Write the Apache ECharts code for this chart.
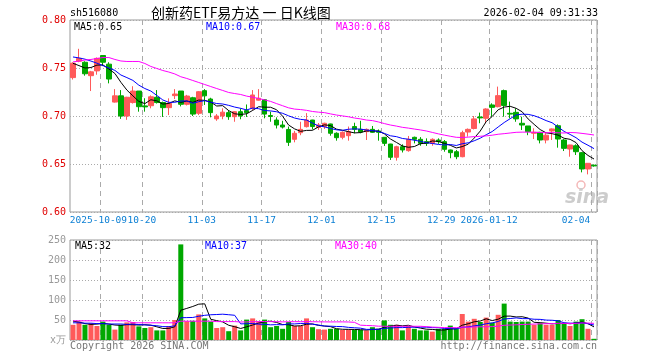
<!DOCTYPE html>
<html><head><meta charset="utf-8">
<script src="https://cdn.jsdelivr.net/npm/echarts@6/dist/echarts.min.js"></script>
<style>html,body{margin:0;padding:0;background:#fff}#c{width:660px;height:360px}</style>
</head><body><div id="c"></div>
<script>
const dates = ['2025-09-24','2025-09-25','2025-09-26','2025-09-29','2025-09-30','2025-10-09','2025-10-10','2025-10-13','2025-10-14','2025-10-15','2025-10-16','2025-10-17','2025-10-20','2025-10-21','2025-10-22','2025-10-23','2025-10-24','2025-10-27','2025-10-28','2025-10-29','2025-10-30','2025-10-31','2025-11-03','2025-11-04','2025-11-05','2025-11-06','2025-11-07','2025-11-10','2025-11-11','2025-11-12','2025-11-13','2025-11-14','2025-11-17','2025-11-18','2025-11-19','2025-11-20','2025-11-21','2025-11-24','2025-11-25','2025-11-26','2025-11-27','2025-11-28','2025-12-01','2025-12-02','2025-12-03','2025-12-04','2025-12-05','2025-12-08','2025-12-09','2025-12-10','2025-12-11','2025-12-12','2025-12-15','2025-12-16','2025-12-17','2025-12-18','2025-12-19','2025-12-22','2025-12-23','2025-12-24','2025-12-25','2025-12-26','2025-12-29','2025-12-30','2025-12-31','2026-01-05','2026-01-06','2026-01-07','2026-01-08','2026-01-09','2026-01-12','2026-01-13','2026-01-14','2026-01-15','2026-01-16','2026-01-19','2026-01-20','2026-01-21','2026-01-22','2026-01-23','2026-01-26','2026-01-27','2026-01-28','2026-01-29','2026-01-30','2026-02-02','2026-02-03','2026-02-04'];

const openP  = [0.740,0.757,0.756,0.742,0.747,0.763,0.754,0.7145,0.721,0.700,0.714,0.726,0.7105,0.7107,0.7195,0.714,0.7087,0.7212,0.726,0.7122,0.719,0.7028,0.7264,0.7177,0.697,0.700,0.7035,0.6993,0.7045,0.7056,0.708,0.7165,0.717,0.7005,0.6958,0.6906,0.686,0.6757,0.6826,0.6889,0.6958,0.688,0.689,0.6917,0.682,0.6778,0.6795,0.689,0.6861,0.6837,0.6861,0.6844,0.6778,0.6708,0.657,0.668,0.6639,0.6778,0.6757,0.6733,0.6715,0.675,0.6733,0.6646,0.6628,0.6576,0.6833,0.687,0.699,0.6976,0.7115,0.7097,0.7264,0.7028,0.7038,0.6924,0.6896,0.682,0.683,0.675,0.6844,0.6899,0.675,0.6656,0.669,0.6618,0.6448,0.6487];
const closeP = [0.755,0.760,0.744,0.746,0.760,0.756,0.7385,0.721,0.700,0.7195,0.726,0.7097,0.7095,0.720,0.714,0.7087,0.7132,0.7229,0.7122,0.7208,0.702,0.7253,0.721,0.7035,0.700,0.704,0.6993,0.7045,0.700,0.7035,0.7219,0.7185,0.702,0.6995,0.6906,0.6885,0.6726,0.682,0.6861,0.6958,0.689,0.6906,0.6924,0.682,0.6774,0.683,0.6837,0.6861,0.6833,0.6861,0.683,0.683,0.6715,0.657,0.668,0.6646,0.6757,0.6757,0.6715,0.6715,0.6757,0.6733,0.6653,0.6618,0.6576,0.6826,0.6861,0.697,0.698,0.7073,0.709,0.7212,0.711,0.702,0.697,0.6906,0.6837,0.683,0.675,0.680,0.6865,0.676,0.6663,0.6698,0.6628,0.6448,0.6507,0.648];
const lowP   = [0.738,0.756,0.742,0.726,0.743,0.752,0.734,0.714,0.697,0.696,0.713,0.7045,0.7045,0.708,0.713,0.699,0.701,0.7177,0.710,0.711,0.700,0.701,0.7115,0.6986,0.695,0.6966,0.696,0.694,0.6966,0.699,0.706,0.716,0.6976,0.694,0.687,0.687,0.6688,0.6726,0.680,0.688,0.686,0.6855,0.6865,0.6795,0.6743,0.6757,0.6743,0.682,0.682,0.675,0.6823,0.6743,0.6688,0.6542,0.6535,0.662,0.6628,0.6715,0.669,0.6688,0.669,0.671,0.6628,0.656,0.655,0.657,0.6785,0.686,0.6924,0.6924,0.6993,0.709,0.6993,0.6976,0.694,0.6854,0.680,0.676,0.6715,0.6715,0.675,0.667,0.6635,0.6576,0.6594,0.6413,0.6392,0.6472];
const highP  = [0.756,0.770,0.757,0.747,0.761,0.763,0.756,0.728,0.727,0.720,0.731,0.726,0.7185,0.7215,0.727,0.715,0.7184,0.728,0.726,0.722,0.720,0.726,0.728,0.719,0.702,0.708,0.706,0.705,0.708,0.712,0.727,0.728,0.7175,0.7045,0.6986,0.695,0.689,0.6845,0.694,0.703,0.696,0.6927,0.693,0.692,0.683,0.684,0.689,0.693,0.695,0.687,0.6896,0.686,0.678,0.671,0.669,0.6705,0.6792,0.6785,0.678,0.6767,0.6767,0.6767,0.675,0.665,0.6646,0.6847,0.687,0.700,0.7035,0.708,0.7132,0.7306,0.7275,0.715,0.708,0.6993,0.6896,0.6872,0.6835,0.683,0.687,0.6913,0.676,0.670,0.6705,0.6625,0.651,0.6495];
const volume = [38,46,38,42,35,46,38,26,38,44,45,34,30,32,24,24,35,50,239,47,48,64,54,46,30,32,22,36,24,51,54,47,51,32,35,28,45,35,35,54,32,27,26,28,28,25,26,25,25,24,32,28,49,38,38,24,35,28,24,24,21,28,28,36,28,65,46,53,45,56,43,63,91,46,45,46,46,38,42,38,38,50,42,35,46,52,28,3];

// moving-average values before enough history exists
const ma5Head  = [0.7549,0.7525,0.7500,0.7505];
const ma10Head = [0.7615,0.7605,0.7592,0.7572,0.7550,0.7525,0.7500,0.7475,0.7427];
const ma30Head = [0.7563,0.7573,0.7583,0.7589,0.7599,0.7609,0.7609,0.7589,0.7573,0.7568,0.7568,0.7568,0.7547,0.7516,0.7495,0.7474,0.7458,0.7438,0.7409,0.7391,0.7370,0.7349,0.7328,0.7307,0.7286,0.7266,0.7245,0.7234,0.7224];
const vMa5Head  = [47,45,41,39];
const vMa10Head = [43,43,42,42,41,41,40,40,40];
const vMa30Head = [48,48,48,48,48,48,48,48,48,48,43,43,43,43,43,43,43,43,47,47,47,47,47,47,46,46,46,46,45];

const tickDates  = ['2025-10-09','2025-10-20','2025-11-03','2025-11-17','2025-12-01','2025-12-15','2025-12-29','2026-01-12','2026-02-04'];
const tickLabels = ['2025-10-09','10-20','11-03','11-17','12-01','12-15','12-29','2026-01-12','02-04'];
const priceTicks = [0.60,0.65,0.70,0.75,0.80];
const volTicks = [0,50,100,150,200,250];

function ma(arr, n, head) {
  return arr.map((v, i) => {
    if (i < n - 1) return head[i];
    let s = 0; for (let k = i - n + 1; k <= i; k++) s += arr[k];
    return +(s / n).toFixed(4);
  });
}
const ma5 = ma(closeP, 5, ma5Head), ma10 = ma(closeP, 10, ma10Head), ma30 = ma(closeP, 30, ma30Head);
const vma5 = ma(volume, 5, vMa5Head), vma10 = ma(volume, 10, vMa10Head), vma30 = ma(volume, 30, vMa30Head);

const UP = '#ff5a5a', DOWN = '#00a800';
const MONO = '"DejaVu Sans Mono", "Liberation Mono", monospace';
const isTick = (idx) => tickDates.indexOf(dates[idx]) >= 0;
const firstTickIdx = dates.indexOf(tickDates[0]);
const isLaterTick = (idx) => isTick(idx) && idx !== firstTickIdx;
const isFirstTick = (idx) => idx === firstTickIdx;
const lastTick = tickDates[tickDates.length - 1];
const lbl = (v) => tickLabels[tickDates.indexOf(v)];

const chart = echarts.init(document.getElementById('c'), null, {renderer: 'canvas'});
const splitV = {show: true, interval: isTick, lineStyle: {color: '#aaaaaa', type: [5, 4], width: 1}};
const splitH = {show: true, lineStyle: {color: '#aaaaaa', type: [1, 2], width: 1}};
const XC = '#0b7fd4', XF = 9.5;
const richX = {n: {color: XC, fontFamily: MONO, fontSize: XF, padding: [0, 6, 0, 0]},
               f: {color: XC, fontFamily: MONO, fontSize: XF, padding: [0, 9, 0, 0]},
               e: {color: XC, fontFamily: MONO, fontSize: XF, padding: [0, 36, 0, 0]}};

function txt(x, y, text, color, font, align) {
  return {type: 'text', silent: true, style: {x: x, y: y, text: text, fill: color, font: font, textAlign: align || 'left', textVerticalAlign: 'middle'}};
}

chart.setOption({
  animation: false,
  backgroundColor: '#ffffff',
  grid: [
    {left: 70, top: 20, width: 527, height: 192, show: true, borderColor: '#999999', borderWidth: 1, backgroundColor: 'transparent'},
    {left: 70, top: 240, width: 527, height: 100, show: true, borderColor: '#999999', borderWidth: 1, backgroundColor: 'transparent'}
  ],
  xAxis: [
    {type: 'category', gridIndex: 0, data: dates, boundaryGap: true,
     axisLine: {show: false}, axisTick: {show: false},
     axisLabel: {interval: isLaterTick, hideOverlap: false, showMinLabel: true, showMaxLabel: true,
       color: XC, fontFamily: MONO, fontSize: XF, margin: 4,
       formatter: (v) => v === lastTick ? '{e|' + lbl(v) + '}' : '{n|' + lbl(v) + '}', rich: richX},
     splitLine: splitV},
    {type: 'category', gridIndex: 1, data: dates, boundaryGap: true,
     axisLine: {show: false}, axisTick: {show: false}, axisLabel: {show: false, interval: isTick},
     splitLine: splitV},
    {type: 'category', gridIndex: 0, data: dates, boundaryGap: true, position: 'bottom',
     axisLine: {show: false}, axisTick: {show: false}, splitLine: {show: false},
     axisLabel: {interval: isFirstTick, hideOverlap: false, showMinLabel: true, showMaxLabel: false,
       color: XC, fontFamily: MONO, fontSize: XF, margin: 4,
       formatter: (v) => '{f|' + lbl(v) + '}', rich: richX}}
  ],
  yAxis: [
    {type: 'value', gridIndex: 0, min: priceTicks[0], max: priceTicks[priceTicks.length - 1], interval: 0.05,
     axisLine: {show: false}, axisTick: {show: false},
     axisLabel: {color: '#e00000', fontFamily: MONO, fontSize: 10, margin: 4, formatter: (v) => v.toFixed(2)},
     splitLine: splitH},
    {type: 'value', gridIndex: 1, min: volTicks[0], max: volTicks[volTicks.length - 1], interval: 50,
     axisLine: {show: false}, axisTick: {show: false},
     axisLabel: {color: '#999999', fontFamily: MONO, fontSize: 10, margin: 4, formatter: (v) => v === 0 ? 'x万' : String(v)},
     splitLine: splitH}
  ],
  series: [
    {type: 'candlestick', xAxisIndex: 0, yAxisIndex: 0, barWidth: 5,
     data: dates.map((d, i) => [openP[i], closeP[i], lowP[i], highP[i]]),
     itemStyle: {color: UP, color0: DOWN, borderColor: UP, borderColor0: DOWN, borderWidth: 1}},
    {type: 'line', xAxisIndex: 0, yAxisIndex: 0, data: ma5, showSymbol: false, symbol: 'none', lineStyle: {color: '#000000', width: 1}, z: 5},
    {type: 'line', xAxisIndex: 0, yAxisIndex: 0, data: ma10, showSymbol: false, symbol: 'none', lineStyle: {color: '#0000ff', width: 1}, z: 5},
    {type: 'line', xAxisIndex: 0, yAxisIndex: 0, data: ma30, showSymbol: false, symbol: 'none', lineStyle: {color: '#ff00ff', width: 1}, z: 5},
    {type: 'bar', xAxisIndex: 1, yAxisIndex: 1, barWidth: 5,
     data: volume.map((v, i) => ({value: v, itemStyle: {color: closeP[i] >= openP[i] ? UP : DOWN}}))},
    {type: 'line', xAxisIndex: 1, yAxisIndex: 1, data: vma5, showSymbol: false, symbol: 'none', lineStyle: {color: '#000000', width: 1}, z: 5},
    {type: 'line', xAxisIndex: 1, yAxisIndex: 1, data: vma10, showSymbol: false, symbol: 'none', lineStyle: {color: '#0000ff', width: 1}, z: 5},
    {type: 'line', xAxisIndex: 1, yAxisIndex: 1, data: vma30, showSymbol: false, symbol: 'none', lineStyle: {color: '#ff00ff', width: 1}, z: 5}
  ],
  graphic: [
    txt(70, 13, 'sh516080', '#000', '10px ' + MONO),
    txt(151, 13, '创新药ETF易方达 一 日K线图', '#000', '14px "Noto Sans CJK SC"'),
    txt(598, 13, '2026-02-04 09:31:33', '#000', '10px ' + MONO, 'right'),
    txt(74, 27, 'MA5:0.65', '#000', '10px ' + MONO),
    txt(206, 27, 'MA10:0.67', '#0000ff', '10px ' + MONO),
    txt(336, 27, 'MA30:0.68', '#ff00ff', '10px ' + MONO),
    txt(75, 246, 'MA5:32', '#000', '10px ' + MONO),
    txt(205, 246, 'MA10:37', '#0000ff', '10px ' + MONO),
    txt(335, 246, 'MA30:40', '#ff00ff', '10px ' + MONO),
    txt(70, 346, 'Copyright 2026 SINA.COM', '#777', '10px ' + MONO),
    txt(597, 346, 'http://finance.sina.com.cn', '#777', '10px ' + MONO, 'right'),
    {type: 'circle', silent: true, shape: {cx: 581, cy: 185, r: 4}, style: {fill: 'none', stroke: '#f4b8b8', lineWidth: 1.5}},
    txt(565, 198, 'sina', '#cccccc', 'italic bold 19px "DejaVu Sans"')
  ]
});
</script>
</body></html>
